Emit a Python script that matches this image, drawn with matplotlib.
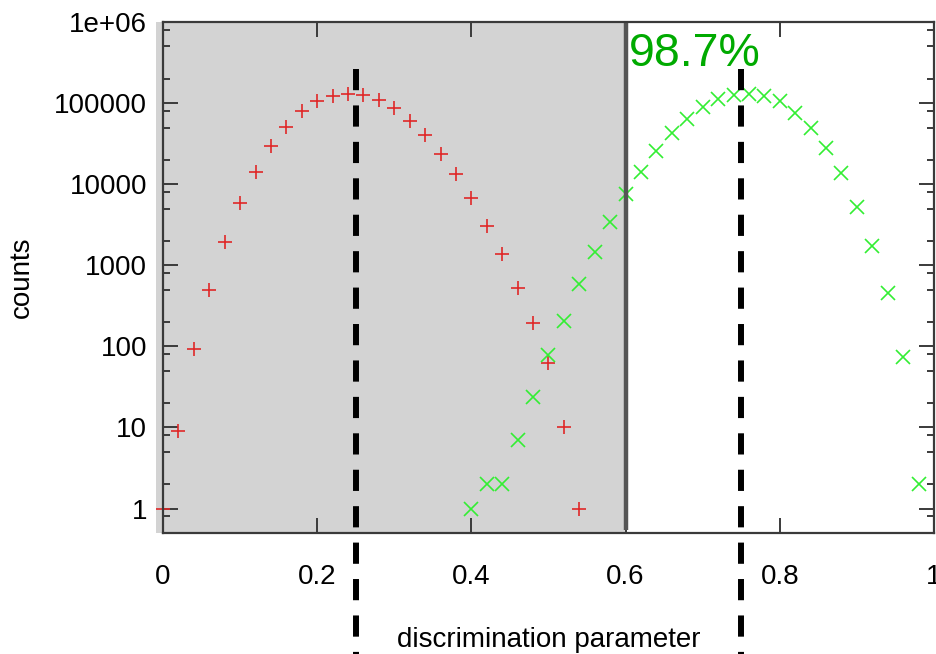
import matplotlib
matplotlib.use("Agg")
import matplotlib.pyplot as plt
from matplotlib.ticker import LogLocator, FixedLocator, NullFormatter
import numpy as np

plt.rcParams['font.family'] = ['Liberation Sans', 'DejaVu Sans']

# histogram bins of the discrimination parameter
redX = [0.00, 0.02, 0.04, 0.06, 0.08, 0.10, 0.12, 0.14, 0.16, 0.18, 0.20, 0.22, 0.24, 0.26,
        0.28, 0.30, 0.32, 0.34, 0.36, 0.38, 0.40, 0.42, 0.44, 0.46, 0.48, 0.50, 0.52, 0.54]
redCounts = [1, 9, 93, 495, 1920, 5800, 14200, 29700, 51400, 78800, 106700, 123000, 129000, 126600,
             109900, 86700, 61000, 40600, 23700, 13300, 6700, 3050, 1370, 530, 195, 62, 10, 1]

greenX = [0.40, 0.42, 0.44, 0.46, 0.48, 0.50, 0.52, 0.54, 0.56, 0.58, 0.60, 0.62, 0.64, 0.66,
          0.68, 0.70, 0.72, 0.74, 0.76, 0.78, 0.80, 0.82, 0.84, 0.86, 0.88, 0.90, 0.92, 0.94,
          0.96, 0.98]
greenCounts = [1, 2, 2, 7, 24, 78, 207, 583, 1470, 3450, 7530, 14300, 25800, 42600,
               64000, 88300, 112000, 126600, 130300, 124000, 104700, 76500, 50000, 27800, 13700, 5290, 1730, 459,
               75, 2]

cutValue = 0.6
peakPositions = [0.25, 0.75]
efficiencyText = "98.7%"

xTicks = [0, 0.2, 0.4, 0.6, 0.8, 1]
xTickLabels = ["0", "0.2", "0.4", "0.6", "0.8", "1"]
yTicks = [1, 10, 100, 1000, 10000, 100000, 1000000]
yTickLabels = ["1", "10", "100", "1000", "10000", "100000", "1e+06"]

fig = plt.figure(figsize=(9.37, 6.54), dpi=100)
ax = fig.add_axes([163/937, 1-533/654, 771/937, 511/654])

axisColor = '#3a3a3a'
for s in ax.spines.values():
    s.set_color(axisColor)
    s.set_linewidth(1.6)
    s.set_zorder(6)

# rejected region below the cut
ax.axvspan(-0.0085, cutValue, color='#d3d3d3', zorder=0, lw=0, clip_on=False)
ax.plot([cutValue, cutValue], [0.005, 1], color='#555555', lw=3.2,
        transform=ax.get_xaxis_transform(), zorder=5, solid_capstyle='butt')

ax.plot(redX, redCounts, linestyle='none', marker='+', ms=10.5, mew=1.2,
        color='#e02828', clip_on=False, zorder=3)
ax.plot(greenX, greenCounts, linestyle='none', marker='x', ms=10.5, mew=1.2,
        color='#33ee33', clip_on=False, zorder=3)

for p in peakPositions:
    ax.plot([p, p], [0.908, -0.24], color='black', lw=4.3, dashes=(3.55, 2.55),
            transform=ax.get_xaxis_transform(), clip_on=False, zorder=7)

ax.text(0.604, 0.914, efficiencyText, transform=ax.transAxes, color='#00aa00',
        fontsize=33.5, ha='left', va='baseline', zorder=8)

ax.set_yscale('log')
ax.set_xlim(0, 1)
ax.set_ylim(0.5, 1e6)

ax.xaxis.set_major_locator(FixedLocator(xTicks))
ax.set_xticklabels(xTickLabels)
ax.yaxis.set_major_locator(FixedLocator(yTicks))
ax.set_yticklabels(yTickLabels)
ax.yaxis.set_minor_locator(LogLocator(base=10, subs=(2.0, 5.0, 8.0), numticks=20))
ax.yaxis.set_minor_formatter(NullFormatter())

ax.tick_params(which='both', direction='in', top=True, right=True, color=axisColor, width=1.4)
ax.tick_params(which='major', length=11)
ax.tick_params(which='minor', length=5.3)
ax.tick_params(axis='y', which='major', labelsize=20, pad=11.5)
ax.tick_params(axis='x', which='major', labelsize=20, pad=22)

ax.set_xlabel("discrimination parameter", fontsize=20)
ax.xaxis.set_label_coords(0.5, -0.2231)
ax.xaxis.label.set_va('baseline')
ax.set_ylabel("counts", fontsize=20)
ax.yaxis.set_label_coords(-0.183, 0.5)
ax.yaxis.label.set_va('center')

fig.savefig("out.png", dpi=100)
